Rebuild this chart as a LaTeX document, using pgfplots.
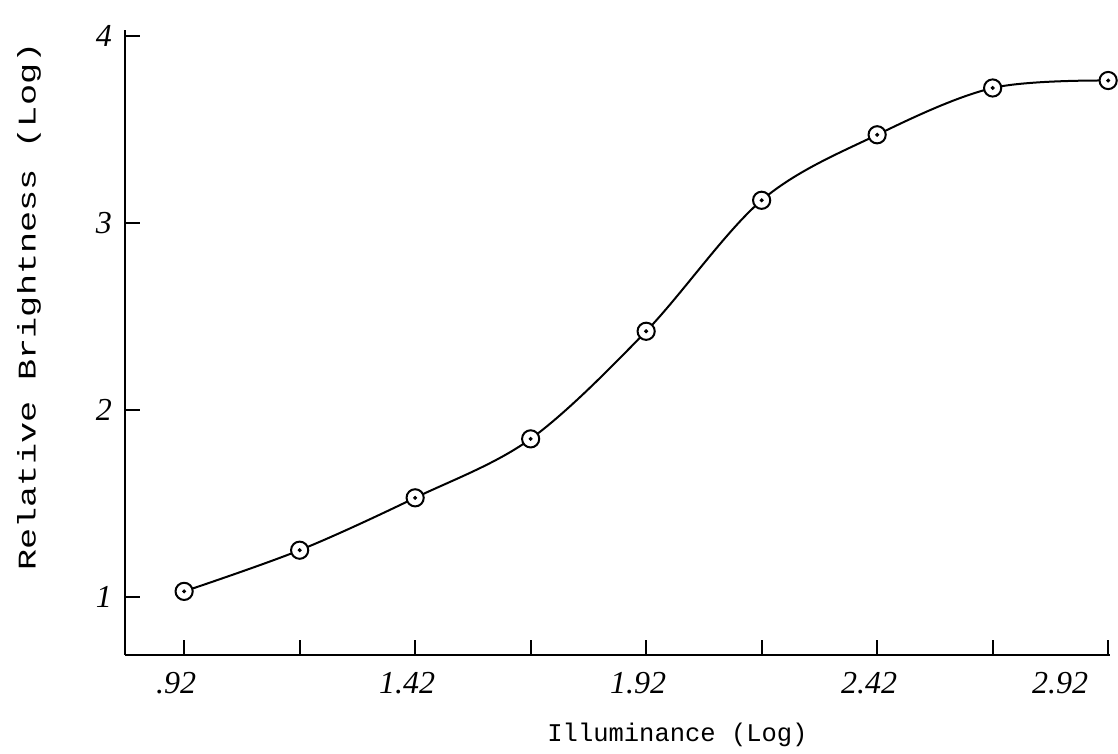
\documentclass[border=0pt]{standalone}
\usepackage{fontspec}
\setmainfont{Liberation Mono}
\newfontfamily\hand{Liberation Serif}
\usepackage{graphicx}
\usepackage{pgfplots}
\usepackage{pgfplotstable}
\pgfplotsset{compat=1.18}

\pgfplotstableread{
x    y
0.92 1.03
1.17 1.25
1.42 1.53
1.67 1.845
1.92 2.42
2.17 3.12
2.42 3.47
2.67 3.72
2.92 3.76
}\brightness

\begin{document}
\begin{tikzpicture}
\useasboundingbox (-62.5pt,-49.5pt) rectangle (496.5pt,327.5pt);
\begin{axis}[
  scale only axis, width=492.5pt, height=312.5pt,
  xmin=0.792, xmax=2.924, ymin=0.69, ymax=4.03,
  axis x line=bottom, axis y line=left,
  axis line style={-, line width=1.2pt},
  tick align=inside, major tick length=7.5pt,
  tick style={line width=1pt, black},
  xtick={0.92,1.17,1.42,1.67,1.92,2.17,2.42,2.67,2.92},
  xticklabels={.92,,1.42,,1.92,,2.42,,\makebox[0pt][r]{2.92}\hspace*{12pt}},
  ytick={1,2,3,4}, yticklabels={1,2,3,4},
  ticklabel style={font=\hand\itshape\fontsize{16}{16}\selectfont},
  xticklabel style={yshift=-5pt, xshift=-4pt},
  yticklabel style={xshift=-3pt},
  xlabel={Illuminance (Log)},
  ylabel={\scalebox{1.38}[1]{Relative Brightness (Log)}},
  label style={font=\fontsize{12.75}{15}\selectfont},
  xlabel style={at={(axis description cs:0.5,0)}, anchor=center, yshift=-40pt, xshift=30pt},
  ylabel style={at={(axis description cs:0,0.5)}, anchor=center, yshift=48pt, xshift=18pt},
  clip=false,
]
\addplot[line width=1pt, black, smooth, tension=0.55] table {\brightness};
\addplot[only marks, mark=*, mark size=4.3pt,
  mark options={fill=white, draw=black, line width=1pt}] table {\brightness};
\addplot[only marks, mark=*, mark size=0.8pt, black] table {\brightness};
\end{axis}
\end{tikzpicture}
\end{document}
